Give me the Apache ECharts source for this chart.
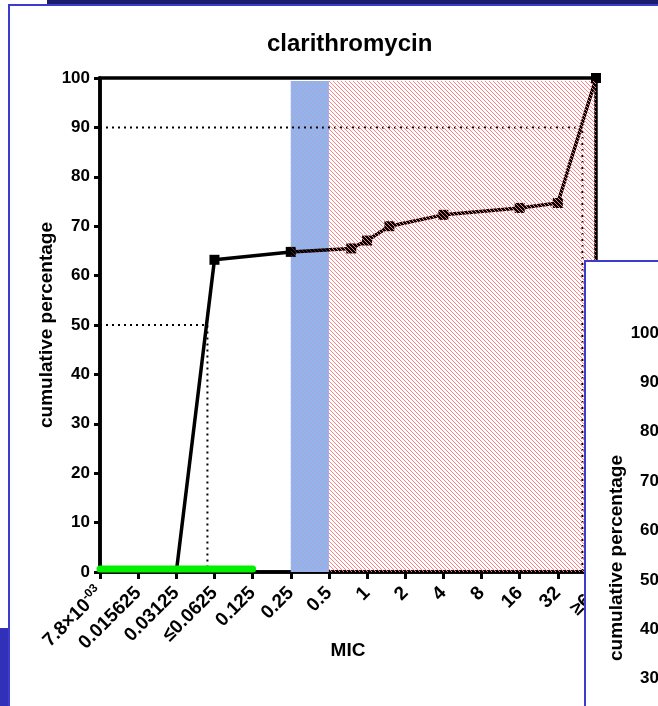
<!DOCTYPE html>
<html><head><meta charset="utf-8">
<script src="https://cdn.jsdelivr.net/npm/echarts@6/dist/echarts.min.js"></script>
<style>html,body{margin:0;padding:0;background:#fff;}#c{width:658px;height:706px;}</style>
</head><body><div id="c"></div>
<script>
// ---- data ----
// x axis is log2(MIC): tick k corresponds to MIC = 2^k
const xMinExp = -7;
const xMaxExp = 6;
const micTickLabels = ['7.8×10{s|-03}', '0.015625', '0.03125', '≤0.0625', '0.125', '0.25', '0.5', '1', '2', '4', '8', '16', '32', '≥64'];
const micValues = [0.03125, 0.0625, 0.25, 0.75, 1, 1.5, 4, 16, 32, 64];
const cumulativePct = [0, 63.2, 64.8, 65.5, 67.1, 70.0, 72.3, 73.7, 74.7, 100];
const mic50 = 0.055;
const mic90 = 50;
const greenRange = [0.0078125, 0.125];
const greenLevel = 0.6;
const blueRange = [0.25, 0.5];
const hatchRange = [0.5, 64];
const shadeTop = 99.4;

const FONT = '"Liberation Sans", Arial, sans-serif';
const lx = v => Math.log2(v);

function stripes(color) {
  const c = document.createElement('canvas');
  c.width = 4; c.height = 4;
  const ctx = c.getContext('2d');
  ctx.fillStyle = color;
  for (let i = 0; i < 4; i++) ctx.fillRect(i, i, 1, 1);
  return c;
}
const redHatch = stripes('#ff8080');
const blueHatch = stripes('rgba(255,120,120,0.32)');

const mainData = micValues.map((v, i) => i === 0
  ? { value: [lx(v), cumulativePct[i]], symbol: 'none' }
  : { value: [lx(v), cumulativePct[i]] });

const chart = echarts.init(document.getElementById('c'), null, { renderer: 'canvas' });
chart.setOption({
  animation: false,
  backgroundColor: '#fff',
  title: {
    text: 'clarithromycin', left: 262, top: 27,
    textStyle: { fontFamily: FONT, fontWeight: 'bold', fontSize: 24, color: '#000' }
  },
  grid: [
    { left: 100, right: 62, top: 78, bottom: 134, show: true, borderColor: '#000', borderWidth: 3.5,
      backgroundColor: 'transparent', outerBoundsMode: 'none' },
    { left: 668, top: 333, width: 100, height: 494, outerBoundsMode: 'none' }
  ],
  xAxis: [{
    type: 'value', min: xMinExp, max: xMaxExp, interval: 1,
    name: 'MIC', nameLocation: 'middle', nameGap: 69, nameMoveOverlap: false,
    nameTextStyle: { fontFamily: FONT, fontWeight: 'bold', fontSize: 19, color: '#000' },
    axisLine: { show: true, onZero: false, lineStyle: { color: '#000', width: 3.5 } },
    axisTick: { show: true, length: 7, lineStyle: { color: '#000', width: 3 } },
    splitLine: { show: false },
    axisLabel: {
      rotate: 45, margin: 18, color: '#000', fontFamily: FONT, fontWeight: 'bold', fontSize: 19,
      showMinLabel: true, showMaxLabel: true, hideOverlap: false,
      formatter: v => micTickLabels[Math.round(v) - xMinExp] || '',
      rich: { s: { fontFamily: FONT, fontWeight: 'bold', fontSize: 12, verticalAlign: 'top', padding: [0, 0, 11, 0], color: '#000' } }
    }
  }, {
    gridIndex: 1, type: 'value', show: false
  }],
  yAxis: [{
    type: 'value', min: 0, max: 100, interval: 10,
    name: 'cumulative percentage', nameLocation: 'middle', nameGap: 44, nameMoveOverlap: false,
    nameTextStyle: { fontFamily: FONT, fontWeight: 'bold', fontSize: 19, color: '#000' },
    axisLine: { show: true, onZero: false, lineStyle: { color: '#000', width: 3.5 } },
    axisTick: { show: true, length: 6, lineStyle: { color: '#000', width: 3 } },
    splitLine: { show: false },
    axisLabel: { margin: 10, color: '#000', fontFamily: FONT, fontWeight: 'bold', fontSize: 17 }
  }, {
    gridIndex: 1, type: 'value', min: 0, max: 100, interval: 10, z: 200,
    name: 'cumulative percentage', nameLocation: 'middle', nameGap: 40,
    nameTextStyle: { fontFamily: FONT, fontWeight: 'bold', fontSize: 19, color: '#000', padding: [0, 0, 0, 44] },
    axisLine: { show: false }, axisTick: { show: false }, splitLine: { show: false },
    axisLabel: { margin: 9, color: '#000', fontFamily: FONT, fontWeight: 'bold', fontSize: 17 }
  }],
  graphic: { elements: [
    { type: 'rect', z: 100, shape: { x: 47, y: 0, width: 620, height: 4 }, style: { fill: '#1c1c6e' } },
    { type: 'line', z: 100, shape: { x1: 8, y1: 5, x2: 660, y2: 5 }, style: { stroke: '#3b3bd0', lineWidth: 2 } },
    { type: 'line', z: 100, shape: { x1: 9, y1: 5, x2: 9, y2: 710 }, style: { stroke: '#3b3bd0', lineWidth: 2 } },
    { type: 'rect', z: 100, shape: { x: 0, y: 628, width: 8, height: 80 }, style: { fill: '#3030b8' } },
    { type: 'rect', z: 150, shape: { x: 585, y: 261, width: 100, height: 500 }, style: { fill: '#fff', stroke: '#3b3bd0', lineWidth: 2 } }
  ] },
  series: [
    { type: 'line', name: 'blue', z: 1, symbol: 'none', silent: true,
      data: [[lx(blueRange[0]), shadeTop], [lx(blueRange[1]), shadeTop]],
      lineStyle: { width: 0 }, areaStyle: { color: '#8fb6f0', opacity: 1 } },
    { type: 'line', name: 'mic50', z: 2, symbol: 'none', silent: true,
      data: [[xMinExp, 50], [lx(mic50), 50], [lx(mic50), 0]],
      lineStyle: { color: '#000', width: 2, type: [2, 4] } },
    { type: 'line', name: 'mic90', z: 2, symbol: 'none', silent: true,
      data: [[xMinExp, 90], [lx(mic90), 90], [lx(mic90), 0]],
      lineStyle: { color: '#000', width: 2, type: [2, 4] } },
    { type: 'line', name: 'cumulative', z: 3, symbol: 'rect', symbolSize: 10,
      data: mainData,
      itemStyle: { color: '#000' },
      lineStyle: { color: '#000', width: 3.5 } },
    { type: 'line', name: 'green', z: 4, symbol: 'none', silent: true,
      data: [[lx(greenRange[0]), greenLevel], [lx(greenRange[1]), greenLevel]],
      lineStyle: { color: '#00f000', width: 7, cap: 'round' } },
    { type: 'line', name: 'blueHatch', z: 5, symbol: 'none', silent: true,
      data: [[lx(blueRange[0]), shadeTop], [lx(blueRange[1]), shadeTop]],
      lineStyle: { width: 0 }, areaStyle: { color: { image: blueHatch, repeat: 'repeat' }, opacity: 1 } },
    { type: 'line', name: 'hatch', z: 5, symbol: 'none', silent: true,
      data: [[lx(hatchRange[0]), shadeTop], [lx(hatchRange[1]), shadeTop]],
      lineStyle: { width: 0 }, areaStyle: { color: { image: redHatch, repeat: 'repeat' }, opacity: 1 } }
  ]
});
</script></body></html>
